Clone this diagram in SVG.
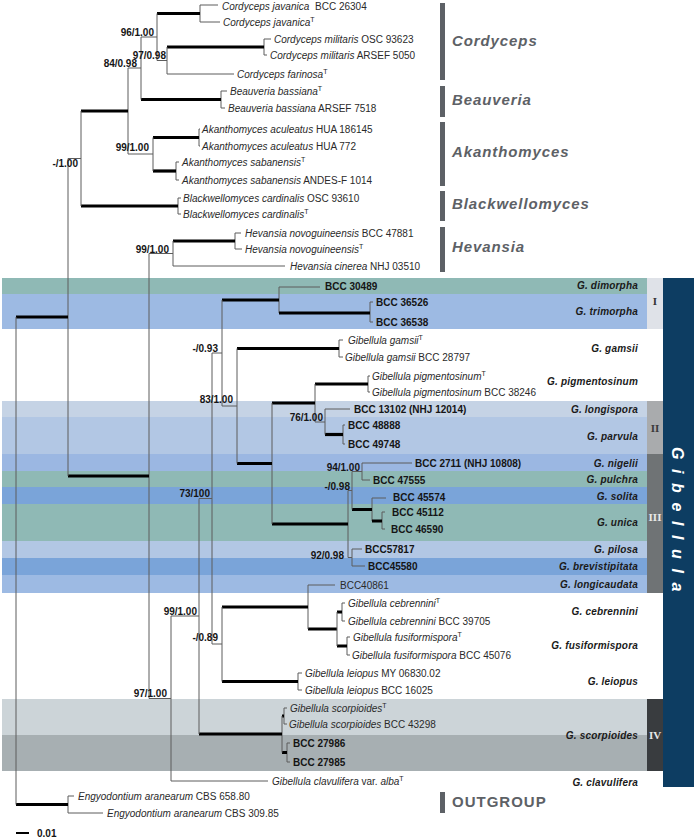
<svg xmlns="http://www.w3.org/2000/svg" width="694" height="838" viewBox="0 0 694 838">
<style>
.bg{stroke:none}
.n{stroke:#5c5c5c;stroke-width:1;fill:none}
.k{stroke:#000;stroke-width:3.2;fill:none}
text{font-family:"Liberation Sans",Arial,sans-serif}
.t{font-size:10px;fill:#2a2a2a}
.i{font-style:italic}
.bd{font-size:10px;font-weight:bold;fill:#151515}
.sv{font-size:10px;font-weight:bold;fill:#151515;text-anchor:end}
.sp{font-size:10px;font-weight:bold;font-style:italic;fill:#1a1a1a;text-anchor:end;letter-spacing:0.2px}
.cl{font-size:15px;font-weight:bold;font-style:italic;fill:#5d6166;letter-spacing:0.9px}
.og{font-size:15px;font-weight:bold;font-style:normal;fill:#5d6166;letter-spacing:1px}
.bar{fill:#5d6166}
.rn{font-family:"Liberation Serif","Times New Roman",serif;font-size:11px;font-weight:bold;text-anchor:middle}
</style>
<g id="bands">
<rect class="bg" x="2" y="278" width="645" height="16" fill="#8fb9b5"/>
<rect class="bg" x="2" y="294" width="645" height="35" fill="#9dbae3"/>
<rect class="bg" x="2" y="401" width="645" height="16" fill="#c5d3e5"/>
<rect class="bg" x="2" y="417" width="645" height="37" fill="#b2c7e4"/>
<rect class="bg" x="2" y="454" width="645" height="17" fill="#9bb7e2"/>
<rect class="bg" x="2" y="471" width="645" height="16" fill="#8fb9b5"/>
<rect class="bg" x="2" y="487" width="645" height="17" fill="#7aa4d9"/>
<rect class="bg" x="2" y="504" width="645" height="37" fill="#8fb9b5"/>
<rect class="bg" x="2" y="541" width="645" height="17" fill="#b2c7e4"/>
<rect class="bg" x="2" y="558" width="645" height="17" fill="#7aa4d9"/>
<rect class="bg" x="2" y="575" width="645" height="18" fill="#9dbae3"/>
<rect class="bg" x="2" y="699" width="645" height="36" fill="#ccd4d8"/>
<rect class="bg" x="2" y="735" width="645" height="36" fill="#a7afb2"/>
</g>
<g id="connectors">
<path class="n" d="M200,5V22M200,5H218M200,22H220"/>
<path class="k" d="M157,13.5H200"/>
<path class="n" d="M264,39V55M264,39H271M264,55H267"/>
<path class="k" d="M167,47H264"/>
<path class="n" d="M167,74H234M167,47V74M157,60.5H167M157,13.5V60.5M141,37H157"/>
<path class="n" d="M221,91V108M221,91H227M221,108H225"/>
<path class="k" d="M141,99.5H221"/>
<path class="n" d="M141,37V99.5M128,68H141"/>
<path class="n" d="M199,129V146M199,129H200M199,146H200"/>
<path class="k" d="M153,137.5H199"/>
<path class="n" d="M176,162V180M176,162H179M176,180H179"/>
<path class="k" d="M153,171H176"/>
<path class="n" d="M153,137.5V171M128,154H153M128,68V154"/>
<path class="k" d="M81,111H128"/>
<path class="n" d="M178,198V214M178,198H181M178,214H181"/>
<path class="k" d="M81,206H178"/>
<path class="n" d="M81,111V206M68,158.5H81"/>
<path class="n" d="M235,233V249M235,233H241M235,249H242"/>
<path class="k" d="M173,241H235"/>
<path class="n" d="M173,266H285M173,241V266M149,253.5H173"/>
<path class="n" d="M279,287V313M279,287H320M370,302V322M370,302H373M370,322H373"/>
<path class="k" d="M279,313H370M222,300H279"/>
<path class="n" d="M339,340V357M339,340H343M339,357H343"/>
<path class="k" d="M237,348.5H339"/>
<path class="n" d="M368,376V392M368,376H370M368,392H370"/>
<path class="k" d="M315,384H368"/>
<path class="n" d="M325,409H350M343,425V444M343,425H345M343,444H345"/>
<path class="k" d="M325,434.5H343"/>
<path class="n" d="M325,409V434.5M315,422H325M315,384V422"/>
<path class="k" d="M272,403H315"/>
<path class="n" d="M362,463V480M362,463H412M362,480H370"/>
<path class="n" d="M372,498V521M372,498H386M382,512V529M382,512H385M382,529H385"/>
<path class="k" d="M372,521H382M352,509.5H372"/>
<path class="n" d="M352,471.5H362M352,471.5V509.5M348,490.5H352"/>
<path class="n" d="M352,549V566M352,549H362M352,566H365M348,557.5H352M348,490.5V557.5"/>
<path class="k" d="M272,524H348"/>
<path class="n" d="M272,403V524"/>
<path class="k" d="M237,463.5H272"/>
<path class="n" d="M237,348.5V463.5M222,406H237M222,300V406M212,353H222"/>
<path class="n" d="M308,585H335M342,603V621M342,603H345M342,621H345M347,637V655M347,637H350M347,655H350"/>
<path class="k" d="M337,612H342M337,646H347M308,629H337"/>
<path class="n" d="M337,612V646M308,585V629"/>
<path class="k" d="M222,607H308"/>
<path class="n" d="M298,673V690M298,673H302M298,690H302"/>
<path class="k" d="M222,681.5H298"/>
<path class="n" d="M222,607V681.5M212,644H222M212,353V644M199,498.5H212"/>
<path class="n" d="M284,708V724M284,708H287M284,724H287M287,743V762M287,743H290M287,762H290"/>
<path class="k" d="M282,716H284M282,752.5H287"/>
<path class="n" d="M282,716V752.5"/>
<path class="k" d="M199,734H282"/>
<path class="n" d="M199,498.5V734M171,616H199M171,781H268M171,616V781M149,698.5H171M149,253.5V698.5"/>
<path class="k" d="M68,476H149"/>
<path class="n" d="M68,158.5V476"/>
<path class="k" d="M16,317H68"/>
<path class="n" d="M68,796V813M68,796H74M68,813H103"/>
<path class="k" d="M16,804.5H68"/>
<path class="n" d="M16,317V804.5"/>
</g>
<g id="support">
<text class="sv" x="154" y="36">96/1.00</text>
<text class="sv" x="166" y="59">97/0.98</text>
<text class="sv" x="137" y="67">84/0.98</text>
<text class="sv" x="149" y="151">99/1.00</text>
<text class="sv" x="78" y="167">-/1.00</text>
<text class="sv" x="169" y="253">99/1.00</text>
<text class="sv" x="218" y="352">-/0.93</text>
<text class="sv" x="233" y="403">83/1.00</text>
<text class="sv" x="323" y="421">76/1.00</text>
<text class="sv" x="360" y="471">94/1.00</text>
<text class="sv" x="350" y="490">-/0.98</text>
<text class="sv" x="344" y="559">92/0.98</text>
<text class="sv" x="210" y="497">73/100</text>
<text class="sv" x="197" y="615">99/1.00</text>
<text class="sv" x="218" y="641">-/0.89</text>
<text class="sv" x="167" y="697">97/1.00</text>
</g>
<g id="taxa">
<text class="t" x="222" y="9.5"><tspan class="i">Cordyceps javanica</tspan><tspan dx="3"> BCC 26304</tspan></text>
<text class="t" x="223" y="25.5"><tspan class="i">Cordyceps javanica</tspan><tspan font-size="7" dy="-4">T</tspan></text>
<text class="t" x="274" y="42.5"><tspan class="i">Cordyceps militaris</tspan> OSC 93623</text>
<text class="t" x="270" y="58.5"><tspan class="i">Cordyceps militaris</tspan> ARSEF 5050</text>
<text class="t" x="237" y="77.5"><tspan class="i">Cordyceps farinosa</tspan><tspan font-size="7" dy="-4">T</tspan></text>
<text class="t" x="230" y="94.5"><tspan class="i">Beauveria bassiana</tspan><tspan font-size="7" dy="-4">T</tspan></text>
<text class="t" x="228" y="111.5"><tspan class="i">Beauveria bassiana</tspan> ARSEF 7518</text>
<text class="t" x="202" y="132.5"><tspan class="i">Akanthomyces aculeatus</tspan> HUA 186145</text>
<text class="t" x="202" y="149.5"><tspan class="i">Akanthomyces aculeatus</tspan> HUA 772</text>
<text class="t" x="182" y="165.5"><tspan class="i">Akanthomyces sabanensis</tspan><tspan font-size="7" dy="-4">T</tspan></text>
<text class="t" x="182" y="183.5"><tspan class="i">Akanthomyces sabanensis</tspan> ANDES-F 1014</text>
<text class="t" x="183" y="201.5"><tspan class="i">Blackwellomyces cardinalis</tspan> OSC 93610</text>
<text class="t" x="183" y="217.5"><tspan class="i">Blackwellomyces cardinalis</tspan><tspan font-size="7" dy="-4">T</tspan></text>
<text class="t" x="245" y="236.5"><tspan class="i">Hevansia novoguineensis</tspan> BCC 47881</text>
<text class="t" x="245" y="252.5"><tspan class="i">Hevansia novoguineensis</tspan><tspan font-size="7" dy="-4">T</tspan></text>
<text class="t" x="290" y="269.5"><tspan class="i">Hevansia cinerea</tspan> NHJ 03510</text>
<text class="bd" x="325" y="289.5">BCC 30489</text>
<text class="bd" x="376" y="305.5">BCC 36526</text>
<text class="bd" x="376" y="325.5">BCC 36538</text>
<text class="t" x="348" y="343.5"><tspan class="i">Gibellula gamsii</tspan><tspan font-size="7" dy="-4">T</tspan></text>
<text class="t" x="345" y="360.5"><tspan class="i">Gibellula gamsii</tspan> BCC 28797</text>
<text class="t" x="372" y="379.5"><tspan class="i">Gibellula pigmentosinum</tspan><tspan font-size="7" dy="-4">T</tspan></text>
<text class="t" x="372" y="395.5"><tspan class="i">Gibellula pigmentosinum</tspan> BCC 38246</text>
<text class="bd" x="354" y="412.5">BCC 13102 (NHJ 12014)</text>
<text class="bd" x="348" y="428.5">BCC 48888</text>
<text class="bd" x="348" y="447.5">BCC 49748</text>
<text class="bd" x="415" y="466.5">BCC 2711 (NHJ 10808)</text>
<text class="bd" x="373" y="483.5">BCC 47555</text>
<text class="bd" x="393" y="500.5">BCC 45574</text>
<text class="bd" x="392" y="515.5">BCC 45112</text>
<text class="bd" x="391" y="532.5">BCC 46590</text>
<text class="bd" x="365" y="552.5">BCC57817</text>
<text class="bd" x="368" y="569.5">BCC45580</text>
<text class="t" x="340" y="588.5" fill="#151515">BCC40861</text>
<text class="t" x="348" y="606.5"><tspan class="i">Gibellula cebrennini</tspan><tspan font-size="7" dy="-4">T</tspan></text>
<text class="t" x="348" y="624.5"><tspan class="i">Gibellula cebrennini</tspan> BCC 39705</text>
<text class="t" x="353" y="640.5"><tspan class="i">Gibellula fusiformispora</tspan><tspan font-size="7" dy="-4">T</tspan></text>
<text class="t" x="352" y="658.5"><tspan class="i">Gibellula fusiformispora</tspan> BCC 45076</text>
<text class="t" x="305" y="676.5"><tspan class="i">Gibellula leiopus</tspan> MY 06830.02</text>
<text class="t" x="305" y="693.5"><tspan class="i">Gibellula leiopus</tspan> BCC 16025</text>
<text class="t" x="290" y="711.5"><tspan class="i">Gibellula scorpioides</tspan><tspan font-size="7" dy="-4">T</tspan></text>
<text class="t" x="289" y="727.5"><tspan class="i">Gibellula scorpioides</tspan> BCC 43298</text>
<text class="bd" x="293" y="746.5">BCC 27986</text>
<text class="bd" x="293" y="765.5">BCC 27985</text>
<text class="t" x="272" y="784.5"><tspan class="i">Gibellula clavulifera</tspan> var. <tspan class="i">alba</tspan><tspan font-size="7" dy="-4">T</tspan></text>
<text class="t" x="78" y="799.5"><tspan class="i">Engyodontium aranearum</tspan> CBS 658.80</text>
<text class="t" x="107" y="816.5"><tspan class="i">Engyodontium aranearum</tspan> CBS 309.85</text>
</g>
<g id="species">
<text class="sp" x="638" y="288.5">G. dimorpha</text>
<text class="sp" x="638" y="314.5">G. trimorpha</text>
<text class="sp" x="638" y="351.5">G. gamsii</text>
<text class="sp" x="638" y="384.5">G. pigmentosinum</text>
<text class="sp" x="638" y="412.5">G. longispora</text>
<text class="sp" x="638" y="439.5">G. parvula</text>
<text class="sp" x="638" y="466.5">G. nigelii</text>
<text class="sp" x="638" y="482.5">G. pulchra</text>
<text class="sp" x="638" y="499.5">G. solita</text>
<text class="sp" x="638" y="525.5">G. unica</text>
<text class="sp" x="638" y="552.5">G. pilosa</text>
<text class="sp" x="638" y="569.5">G. brevistipitata</text>
<text class="sp" x="638" y="587.5">G. longicaudata</text>
<text class="sp" x="638" y="614.5">G. cebrennini</text>
<text class="sp" x="638" y="648.5">G. fusiformispora</text>
<text class="sp" x="638" y="684.5">G. leiopus</text>
<text class="sp" x="638" y="738.5">G. scorpioides</text>
<text class="sp" x="638" y="785.5">G. clavulifera</text>
</g>
<g id="groups">
<rect x="647" y="278" width="16" height="51" fill="#dfe2e8"/>
<text class="rn" x="655" y="305" fill="#333">I</text>
<rect x="647" y="401" width="16" height="53" fill="#a9abad"/>
<text class="rn" x="655" y="432" fill="#3a3a3a">II</text>
<rect x="647" y="454" width="16" height="139" fill="#6f7375"/>
<text class="rn" x="655" y="521" fill="#e8e8e8">III</text>
<rect x="647" y="699" width="16" height="72" fill="#393c3f"/>
<text class="rn" x="655" y="739" fill="#e8e8e8">IV</text>
<rect x="663" y="278" width="31" height="509" fill="#0d3d62"/>
<text x="672" y="447" transform="rotate(90 672 447)" font-size="16" font-weight="bold" font-style="italic" fill="#fff" letter-spacing="9.6">Gibellula</text>
</g>
<g id="clades">
<rect class="bar" x="440" y="3" width="5" height="77"/>
<text class="cl" x="452" y="46">Cordyceps</text>
<rect class="bar" x="440" y="86" width="5" height="31"/>
<text class="cl" x="452" y="105">Beauveria</text>
<rect class="bar" x="440" y="122" width="5" height="64"/>
<text class="cl" x="452" y="157">Akanthomyces</text>
<rect class="bar" x="440" y="191" width="5" height="30"/>
<text class="cl" x="452" y="209">Blackwellomyces</text>
<rect class="bar" x="440" y="227" width="5" height="45"/>
<text class="cl" x="452" y="252">Hevansia</text>
<rect class="bar" x="440" y="792" width="5" height="21"/>
<text class="og" x="452" y="807">OUTGROUP</text>
</g>
<g id="scale">
<path d="M16,833H29" stroke="#000" stroke-width="2"/>
<text class="bd" x="37" y="837">0.01</text>
</g>
</svg>
